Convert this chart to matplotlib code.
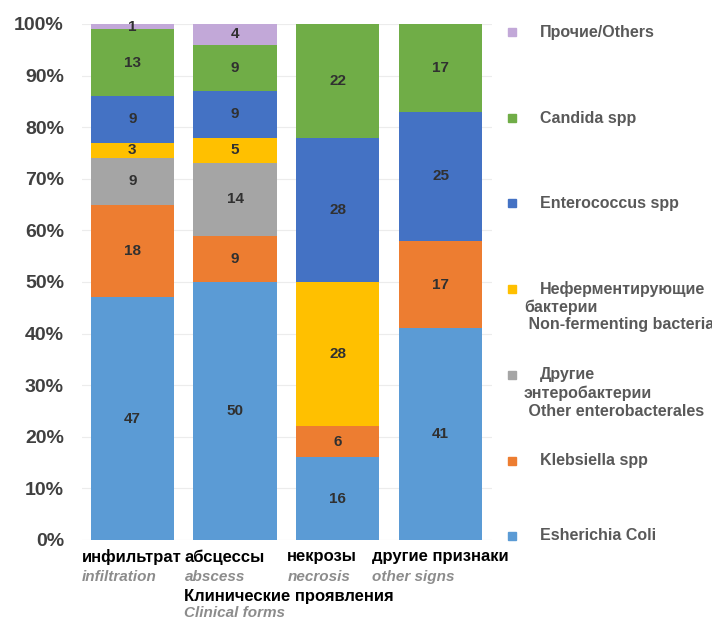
import numpy as np
import matplotlib
matplotlib.use('Agg')
import matplotlib.pyplot as plt
from matplotlib.lines import Line2D

plt.rcParams['font.family'] = ['Liberation Sans', 'DejaVu Sans']

# categories (clinical forms)
cat_ru = ['инфильтрат', 'абсцессы', 'некрозы', 'другие признаки']
cat_en = ['infiltration', 'abscess', 'necrosis', 'other signs']

# series, bottom to top of the stack
series_names = ['Esherichia Coli',
                'Klebsiella spp',
                'Другие\nэнтеробактерии\n Other enterobacterales',
                'Неферментирующие\nбактерии\n Non-fermenting bacteria',
                'Enterococcus spp',
                'Candida spp',
                'Прочие/Others']
ecoli = [47, 50, 16, 41]
klebsiella = [18, 9, 6, 17]
other_entero = [9, 14, 0, 0]
nonferm = [3, 5, 28, 0]
enterococcus = [9, 9, 28, 25]
candida = [13, 9, 22, 17]
others = [1, 4, 0, 0]

colors = ['#5B9BD5', '#ED7D31', '#A5A5A5', '#FFC000', '#4472C4', '#70AD47', '#C2A8D8']

W, H = 712, 619
BAR_W = 0.81
fig = plt.figure(figsize=(W / 100, H / 100), dpi=100)
ax = fig.add_axes([82 / W, 79 / H, (492 - 82) / W, (540 - 24) / H])

values = np.array([ecoli, klebsiella, other_entero, nonferm, enterococcus, candida, others], dtype=float)
totals = values.sum(axis=0)
x = np.arange(len(cat_ru))
bottom = np.zeros(len(x))
for vals, col in zip(values, colors):
    frac = vals / totals
    ax.bar(x, frac, BAR_W, bottom=bottom, color=col, zorder=2)
    for xi, v, f, b in zip(x, vals, frac, bottom):
        if v > 0:
            ax.text(xi, b + f / 2, '%d' % v, ha='center', va='center',
                    fontsize=11, fontweight='bold', color='#303030', zorder=3)
    bottom += frac

ax.set_xlim(-0.49, 3.5)
ax.set_ylim(0, 1)
ticks = np.arange(0, 1.01, 0.1)
ax.set_yticks(ticks)
ax.set_yticklabels(['%d%%' % round(t * 100) for t in ticks])
ax.tick_params(axis='y', length=0, pad=13, labelsize=14, labelcolor='#404040')
for lab in ax.get_yticklabels():
    lab.set_fontweight('bold')
ax.set_xticks([])
ax.grid(axis='y', color='#ECECEC', lw=0.8, zorder=0)
for s in ax.spines.values():
    s.set_visible(False)

# category labels: russian bold black, english italic grey, left aligned block
fig.canvas.draw()
r = fig.canvas.get_renderer()
inv = fig.transFigure.inverted()
for xi, ru, en in zip(x, cat_ru, cat_en):
    t1 = fig.text(0, 0, ru, ha='left', va='center', fontsize=12,
                  fontweight='bold', color='black')
    t2 = fig.text(0, 0, en, ha='left', va='center', fontsize=11,
                  fontstyle='italic', fontweight='bold', color='#8C8C8C')
    w = max(t1.get_window_extent(r).width, t2.get_window_extent(r).width)
    cx = ax.transData.transform((xi, 0))[0]
    bar_left = ax.transData.transform((xi - BAR_W / 2, 0))[0]
    left = min(bar_left - 9, cx - w / 2)
    t1.set_position(inv.transform((left, H - 557)))
    t2.set_position(inv.transform((left, H - 577)))

# axis title
fig.text(184 / W, 1 - 596 / H, 'Клинические проявления', ha='left', va='center',
         fontsize=12, fontweight='bold', color='black')
fig.text(184 / W, 1 - 613 / H, 'Clinical forms', ha='left', va='center',
         fontsize=11, fontstyle='italic', fontweight='bold', color='#8C8C8C')

# legend, top to bottom
legend_y = [32, 118, 203, 289, 375, 461, 536]
for name, col, yp in zip(series_names[::-1], colors[::-1], legend_y):
    fig.add_artist(Line2D([512 / W], [1 - yp / H], marker='s', markersize=5.5,
                          color=col, transform=fig.transFigure))
    lines = name.split('\n')
    fig.text(540 / W, 1 - yp / H, lines[0], ha='left', va='center',
             fontsize=11.5, fontweight='bold', color='#595959')
    for k, ln in enumerate(lines[1:]):
        fig.text(524 / W, 1 - (yp + 18 * (k + 1)) / H, ln, ha='left', va='center',
                 fontsize=11.5, fontweight='bold', color='#595959')

fig.savefig('out.png', dpi=100)
